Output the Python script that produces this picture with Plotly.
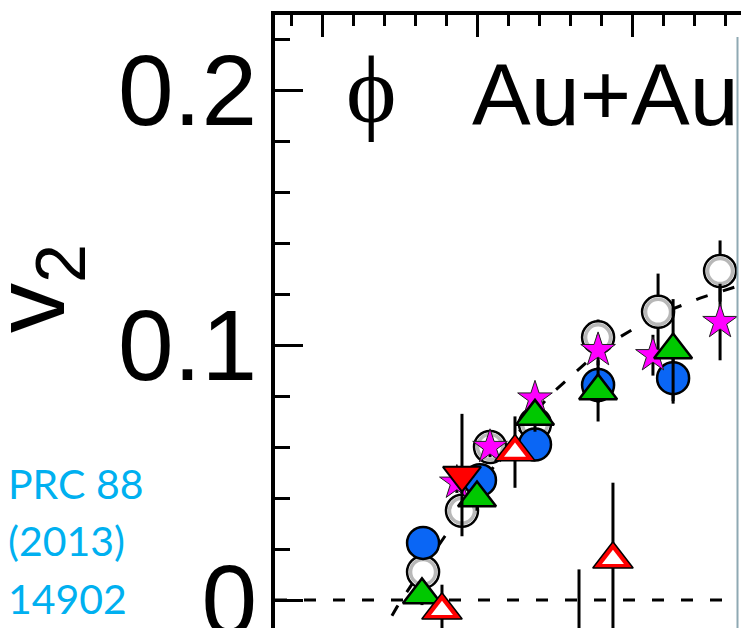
import plotly.graph_objects as go

# phi-meson elliptic flow v2 vs pT (GeV/c), Au+Au, several beam energies
pt_open = [0.652, 0.903, 1.084, 1.374, 1.781, 2.168, 2.568]
v2_open = [0.011, 0.035, 0.060, 0.069, 0.103, 0.113, 0.129]
er_open = [0.004, 0.005, 0.005, 0.006, 0.007, 0.015, 0.012]

pt_blue = [0.652, 1.019, 1.374, 1.781, 2.265]
v2_blue = [0.0224, 0.047, 0.061, 0.0843, 0.087]
er_blue = [0.003, 0.004, 0.005, 0.007, 0.010]

pt_star = [0.87, 1.084, 1.374, 1.781, 2.135, 2.568]
v2_star = [0.046, 0.060, 0.079, 0.098, 0.096, 0.109]
er_star = [0.004, 0.004, 0.005, 0.006, 0.008, 0.015]

pt_green = [0.645, 1.0, 1.374, 1.781, 2.265]
v2_green = [0.002, 0.040, 0.072, 0.082, 0.098]
er_green = [0.004, 0.005, 0.006, 0.012, 0.020]

pt_rdown = [0.903, 1.658]
v2_rdown = [0.049, -0.030]
er_rdown = [0.024, 0.042]

pt_ropen = [0.774, 1.245, 1.877]
v2_ropen = [-0.004, 0.058, 0.016]
er_ropen = [0.010, 0.014, 0.030]

# dashed fit curve
pt_fit = [0.37, 0.406, 0.484, 0.632, 0.794, 0.955, 1.148, 1.31, 1.471, 1.594,
          1.761, 1.91, 2.084, 2.245, 2.439, 2.703]
v2_fit = [-0.016, -0.011, -0.0027, 0.011, 0.0251, 0.0392, 0.0557, 0.069, 0.0804,
          0.0871, 0.0961, 0.1027, 0.109, 0.1137, 0.1184, 0.1235]

y_ticks = [0, 0.1, 0.2]
y_ticklabels = ["0", "0.1", "0.2"]

X0, X1 = -0.3032, 2.703
Y0, Y1 = -0.01098, 0.22941

W, H = 741, 628
ML, MT = 275, 15
PW, PH = W - ML, H - MT


def px(xp):
    return (xp - ML) / PW


def py(yp):
    return (H - yp) / PH


def ebar(err, color="black"):
    return dict(type="data", array=err, visible=True, color=color,
                thickness=3, width=0)


fig = go.Figure()

fig.add_trace(go.Scatter(x=pt_fit, y=v2_fit, mode="lines",
                         line=dict(color="black", width=3, dash="12px,16px"),
                         hoverinfo="skip", showlegend=False))

# open circles (black rim, grey inner ring, white centre)
fig.add_trace(go.Scatter(x=pt_open, y=v2_open, mode="markers", error_y=ebar(er_open),
                         marker=dict(symbol="circle", size=32, color="white",
                                     line=dict(color="black", width=2.5)),
                         showlegend=False))
fig.add_trace(go.Scatter(x=pt_open, y=v2_open, mode="markers",
                         marker=dict(symbol="circle-open", size=25, color="#b8b8b8",
                                     line=dict(color="#b8b8b8", width=3.5)),
                         showlegend=False))

fig.add_trace(go.Scatter(x=pt_blue, y=v2_blue, mode="markers", error_y=ebar(er_blue),
                         marker=dict(symbol="circle", size=32, color="#0a66f5",
                                     line=dict(color="black", width=2.5)),
                         showlegend=False))

fig.add_trace(go.Scatter(x=pt_star, y=v2_star, mode="markers", error_y=ebar(er_star),
                         marker=dict(symbol="star", size=26, color="#ff00ff",
                                     line=dict(color="#202020", width=1)),
                         showlegend=False))

fig.add_trace(go.Scatter(x=pt_green, y=v2_green, mode="markers", error_y=ebar(er_green),
                         marker=dict(symbol="triangle-up", size=33, color="#00c800",
                                     line=dict(color="black", width=2.5)),
                         showlegend=False))

fig.add_trace(go.Scatter(x=pt_rdown, y=v2_rdown, mode="markers", error_y=ebar(er_rdown),
                         marker=dict(symbol="triangle-down", size=33, color="#ff0000",
                                     line=dict(color="black", width=2)),
                         showlegend=False))

# open red triangles: red band with white interior
fig.add_trace(go.Scatter(x=pt_ropen, y=v2_ropen, mode="markers", error_y=ebar(er_ropen),
                         marker=dict(symbol="triangle-up", size=35, color="#ff0000",
                                     line=dict(color="black", width=1.5)),
                         showlegend=False))
fig.add_trace(go.Scatter(x=pt_ropen, y=v2_ropen, mode="markers",
                         marker=dict(symbol="triangle-up", size=19, color="white",
                                     line=dict(width=0)),
                         showlegend=False))

shapes = [
    dict(type="line", xref="x", yref="y", x0=X0, x1=X1, y0=0, y1=0, layer="below",
         line=dict(color="black", width=3, dash="12px,17px")),
    dict(type="rect", xref="paper", yref="paper", x0=px(737), x1=px(745),
         y0=-0.05, y1=py(37), fillcolor="white", line=dict(width=0), layer="above"),
    dict(type="line", xref="paper", yref="paper", x0=px(737.5), x1=px(737.5),
         y0=-0.05, y1=py(37), line=dict(color="#8fa9b3", width=2), layer="above"),
]

annotations = [
    dict(text="v<sub>2</sub>", xref="paper", yref="paper", x=px(36), y=py(288),
         textangle=-90, showarrow=False, xanchor="center", yanchor="middle",
         font=dict(family="Liberation Sans, Arial", size=100, color="black")),
    dict(text="\u03d5", xref="paper", yref="paper", x=px(371), y=py(89),
         showarrow=False, xanchor="center", yanchor="middle",
         font=dict(family="Liberation Serif, Times New Roman", size=96, color="black")),
    dict(text="Au+Au", xref="paper", yref="paper", x=px(470), y=py(94),
         showarrow=False, xanchor="left", yanchor="middle",
         font=dict(family="Liberation Sans, Arial", size=88, color="black")),
]
for i, line in enumerate(["PRC 88", "(2013)", "14902"]):
    annotations.append(dict(text=line, xref="paper", yref="paper", x=px(6),
                            y=py(483 + 57.5 * i), showarrow=False,
                            xanchor="left", yanchor="middle",
                            font=dict(family="Lato, Noto Sans", size=41, color="#00b0f0")))

fig.update_layout(
    width=W, height=H,
    margin=dict(l=ML, r=0, t=MT, b=0, pad=0, autoexpand=False),
    paper_bgcolor="white", plot_bgcolor="white",
    showlegend=False,
    shapes=shapes, annotations=annotations,
    xaxis=dict(range=[X0, X1], side="top", showline=True, linecolor="black",
               linewidth=4, ticks="inside", ticklen=22, tickwidth=3,
               tickcolor="black", tick0=0, dtick=1, showticklabels=False,
               showgrid=False, zeroline=False, automargin=False,
               minor=dict(ticks="inside", ticklen=11, tickwidth=3,
                          tickcolor="black", dtick=0.2, showgrid=False)),
    yaxis=dict(range=[Y0, Y1], showline=True, linecolor="black", linewidth=4,
               ticks="inside", ticklen=28, tickwidth=3, tickcolor="black",
               tickmode="array", tickvals=y_ticks, ticktext=y_ticklabels,
               tickfont=dict(family="Liberation Sans, Arial", size=100, color="black"),
               ticklabelstandoff=-6, ticklabeloverflow="allow", automargin=False,
               showgrid=False, zeroline=False,
               minor=dict(ticks="inside", ticklen=15, tickwidth=3,
                          tickcolor="black", dtick=0.02, showgrid=False)),
)

fig.write_html("out.html")
